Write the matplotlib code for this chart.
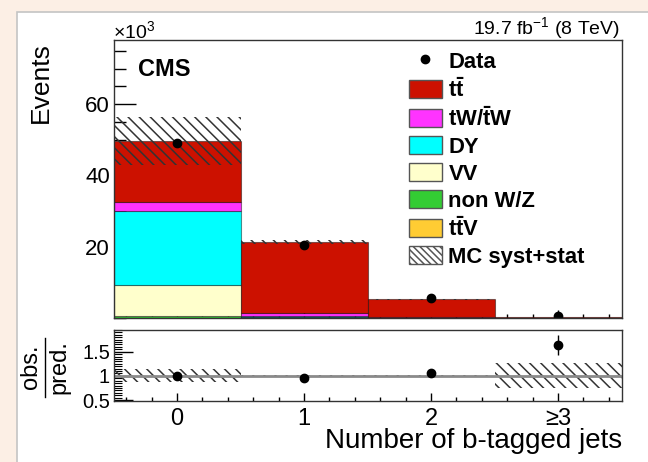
import numpy as np
import matplotlib
matplotlib.use("Agg")
import matplotlib.pyplot as plt
from matplotlib.patches import Patch, Rectangle
from matplotlib.lines import Line2D
from matplotlib.ticker import MultipleLocator, FixedLocator

plt.rcParams['font.family'] = ['Liberation Sans', 'DejaVu Sans']
plt.rcParams['mathtext.fontset'] = 'custom'
plt.rcParams['mathtext.rm'] = 'Liberation Sans'
plt.rcParams['mathtext.it'] = 'Liberation Sans:italic'
plt.rcParams['mathtext.bf'] = 'Liberation Sans:bold'
plt.rcParams['hatch.linewidth'] = 1.1

# b-tag multiplicity bins, events in units of 1e3
bins = [0, 1, 2, 3]
bin_labels = ['0', '1', '2', '≥3']

ttv = [0.05, 0.05, 0.03, 0.01]
nonwz = [0.55, 0.10, 0.02, 0.00]
vv = [8.60, 0.15, 0.02, 0.00]
dy = [20.80, 0.15, 0.03, 0.00]
tw = [2.50, 1.00, 0.25, 0.01]
tt = [17.10, 19.85, 4.95, 0.31]

data = [49.2, 20.5, 5.6, 0.54]
syst = [6.7, 0.45, 0.15, 0.085]
ratio_err = [0.005, 0.007, 0.014, 0.20]

# stacking order bottom -> top
stack = [
    (ttv, '#ffcc33', r'$\mathbf{t\bar{t}V}$'),
    (nonwz, '#33cc33', 'non W/Z'),
    (vv, '#ffffcc', 'VV'),
    (dy, '#00ffff', 'DY'),
    (tw, '#ff33ff', r'$\mathbf{tW/\bar{t}W}$'),
    (tt, '#cc1100', r'$\mathbf{t\bar{t}}$'),
]

x = np.array(bins, dtype=float)
total = np.zeros(len(bins))
for vals, _, _ in stack:
    total += np.array(vals)
data = np.array(data)
syst = np.array(syst)

fig = plt.figure(figsize=(6.48, 4.62), dpi=100)
fig.patch.set_facecolor('#fcefe5')
fig.add_artist(Rectangle((17 / 648, -0.01), 1.0, 1 - 12 / 462 + 0.01,
                         transform=fig.transFigure, facecolor='white',
                         edgecolor='#c4c4c4', lw=1.2, zorder=0))

ax = fig.add_axes([0.1752, 0.3117, 0.7840, 0.6017])
rax = fig.add_axes([0.1752, 0.1320, 0.7840, 0.1537])

bottom = np.zeros(len(bins))
for vals, col, lab in stack:
    ax.bar(x, vals, width=1.0, bottom=bottom, color=col,
           edgecolor=(0, 0, 0, 0.45), linewidth=0.8, zorder=2)
    bottom += np.array(vals)

band_hatch = '\\\\\\'
ax.bar(x, 2 * syst, width=1.0, bottom=total - syst, fill=False,
       hatch=band_hatch, edgecolor='#333333', linewidth=0, zorder=3)
ax.plot(x, data, 'o', color='black', ms=6, zorder=4)

ax.set_xlim(-0.5, 3.5)
ax.set_ylim(0, 78)
ax.yaxis.set_major_locator(FixedLocator([20, 40, 60]))
ax.yaxis.set_minor_locator(MultipleLocator(5))
ax.xaxis.set_major_locator(FixedLocator(bins))
ax.xaxis.set_minor_locator(MultipleLocator(0.2))
ax.set_xticklabels([])
ax.tick_params(axis='y', which='major', direction='in', length=16, width=1,
               labelsize=16, pad=2.5)
ax.tick_params(axis='y', which='minor', direction='in', length=8.5, width=1)
ax.tick_params(axis='x', which='major', direction='in', length=6, width=1)
ax.tick_params(axis='x', which='minor', direction='in', length=3, width=1)
for s in ax.spines.values():
    s.set_linewidth(1.0)
    s.set_color('#333333')
    s.set_zorder(5)

# ratio panel
ratio = data / total
rel = syst / total
rax.bar(x, 2 * rel, width=1.0, bottom=1 - rel, fill=False, hatch=band_hatch,
        edgecolor='#333333', linewidth=0, zorder=2)
rax.axhline(1.0, color='#8a8a8a', lw=2, zorder=3)
rax.errorbar(x, ratio, yerr=ratio_err, fmt='o', color='black', ms=6,
             elinewidth=1, capsize=0, zorder=4)
rax.set_xlim(-0.5, 3.5)
rax.set_ylim(0.48, 1.95)
rax.yaxis.set_major_locator(FixedLocator([0.5, 1.0, 1.5]))
rax.yaxis.set_minor_locator(MultipleLocator(0.05))
rax.set_yticklabels(['0.5', '1', '1.5'])
rax.xaxis.set_major_locator(FixedLocator(bins))
rax.xaxis.set_minor_locator(MultipleLocator(0.2))
rax.set_xticklabels(bin_labels)
rax.tick_params(axis='y', which='major', direction='in', length=14, width=1,
                labelsize=14.5, pad=2.5)
rax.tick_params(axis='y', which='minor', direction='in', length=5.5, width=0.8)
rax.tick_params(axis='x', which='major', direction='in', length=6, width=1,
                labelsize=17, pad=5)
rax.tick_params(axis='x', which='minor', direction='in', length=3, width=1)
for s in rax.spines.values():
    s.set_linewidth(1.0)
    s.set_color('#333333')
    s.set_zorder(5)

# labels
fig.text(41 / 648, 1 - 83 / 462, 'Events', rotation=90, ha='center',
         va='center', fontsize=19)
fig.text(113 / 648, 1 - 31 / 462, r'$\times$10$^{3}$', ha='left',
         va='center', fontsize=14)
fig.text(138 / 648, 1 - 70 / 462, 'CMS', ha='left', va='center',
         fontsize=17, fontweight='bold')
fig.text(620 / 648, 1 - 28 / 462, r'19.7 fb$^{-1}$ (8 TeV)', ha='right',
         va='center', fontsize=14)
fig.text(622 / 648, 1 - 441 / 462, 'Number of b-tagged jets', ha='right',
         va='center', fontsize=20)
fig.text(31 / 648, 1 - 367 / 462, 'obs.', rotation=90, ha='center',
         va='center', fontsize=17)
fig.text(59 / 648, 1 - 367 / 462, 'pred.', rotation=90, ha='center',
         va='center', fontsize=17)
fig.add_artist(Line2D([45 / 648, 45 / 648], [1 - 338 / 462, 1 - 397 / 462],
                      transform=fig.transFigure, color='black', lw=1))

handles = [Line2D([], [], marker='o', ls='none', color='black', ms=6)]
labels = ['Data']
for vals, col, lab in reversed(stack):
    handles.append(Patch(facecolor=col, edgecolor='#555555', lw=1))
    labels.append(lab)
handles.append(Patch(facecolor='white', edgecolor='#555555',
                     hatch='\\\\\\\\\\', lw=1))
labels.append('MC syst+stat')
leg = fig.legend(handles, labels, loc='upper left',
                 bbox_to_anchor=(409 / 648, 1 - 51 / 462), frameon=False,
                 prop={'weight': 'bold', 'size': 15.8}, handlelength=1.5,
                 handleheight=0.9, handletextpad=0.3, labelspacing=0.24,
                 borderpad=0, borderaxespad=0)

fig.savefig('out.png', dpi=100, facecolor=fig.get_facecolor())
